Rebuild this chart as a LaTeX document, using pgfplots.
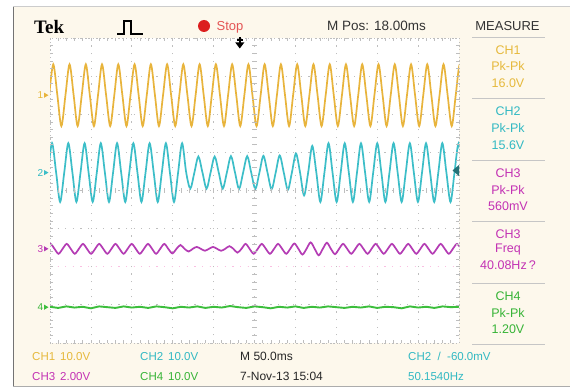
\documentclass[border=0pt]{standalone}
\usepackage{fontspec}
\setmainfont{Liberation Sans}
\newfontfamily\tekfont{Liberation Serif}
\usepackage{pgfplots}
\pgfplotsset{compat=1.18}
\definecolor{cream}{RGB}{253,248,236}
\definecolor{ch1}{RGB}{232,180,60}
\definecolor{ch2}{RGB}{60,190,200}
\definecolor{ch3}{RGB}{180,60,180}
\definecolor{ch4}{RGB}{60,190,60}
\definecolor{ch1t}{RGB}{230,185,60}
\definecolor{ch2t}{RGB}{50,185,195}
\definecolor{ch3t}{RGB}{195,50,180}
\definecolor{ch4t}{RGB}{55,180,55}
\definecolor{gridc}{RGB}{190,190,190}
\definecolor{framec}{RGB}{115,115,115}
\definecolor{stopdot}{RGB}{220,30,30}
\definecolor{stoptxt}{RGB}{228,85,85}
\newcommand\fm{\fontsize{12.5}{14}\selectfont}
\newcommand\fh{\fontsize{13}{15}\selectfont}
\newcommand\fb{\fontsize{11.5}{13}\selectfont}
\begin{document}
\begin{tikzpicture}[x=1pt,y=1pt]
\useasboundingbox (0,0) rectangle (570,389);
\fill[white] (0,0) rectangle (570,389);
\fill[cream] (13,3) rectangle (570,382);
\fill[white] (50,46) rectangle (459,351);
\draw[line width=1.8pt, framec] (13.5,2.5) -- (13.5,382.5);
\draw[line width=1.5pt, gray!40] (13,382.5) -- (570,382.5);
\draw[line width=1.5pt, gray!65] (13,2.5) -- (570,2.5);

\begin{axis}[at={(50pt,46pt)}, anchor=south west, scale only axis,
  width=409pt, height=305pt,
  xmin=0, xmax=500, ymin=-4, ymax=4,
  xtick={0,50,...,500}, ytick={-4,-3,...,4},
  xticklabels={}, yticklabels={}, major tick length=0pt,
  grid=major,
  major grid style={draw=gridc, line width=0.8pt, dash pattern=on 1.2pt off 6.4pt},
  axis line style={draw=gridc, line width=0.8pt, dash pattern=on 1.2pt off 2.5pt},
  clip mode=individual]
\addplot[draw=magenta!25, line width=0.8pt, dash pattern=on 1.2pt off 6.4pt] coordinates {(0,-2) (500,-2)};
% CH1
\addplot[ch1, line width=1.7pt, smooth] coordinates {
(-1.0,2.50)(4.0,3.31)(9.0,2.50)(13.9,1.69)
(18.9,2.50)(23.9,3.31)(28.9,2.50)(33.8,1.69)
(38.8,2.50)(43.8,3.31)(48.7,2.50)(53.7,1.69)
(58.7,2.50)(63.6,3.31)(68.6,2.50)(73.6,1.69)
(78.6,2.50)(83.5,3.31)(88.5,2.50)(93.5,1.69)
(98.4,2.50)(103.4,3.31)(108.4,2.50)(113.3,1.69)
(118.3,2.50)(123.3,3.31)(128.3,2.50)(133.2,1.69)
(138.2,2.50)(143.2,3.31)(148.1,2.50)(153.1,1.69)
(158.1,2.50)(163.0,3.31)(168.0,2.50)(173.0,1.69)
(178.0,2.50)(182.9,3.31)(187.9,2.50)(192.9,1.69)
(197.8,2.50)(202.8,3.31)(207.8,2.50)(212.7,1.69)
(217.7,2.50)(222.7,3.31)(227.7,2.50)(232.6,1.69)
(237.6,2.50)(242.6,3.31)(247.5,2.50)(252.5,1.69)
(257.5,2.50)(262.4,3.31)(267.4,2.50)(272.4,1.69)
(277.4,2.50)(282.3,3.31)(287.3,2.50)(292.3,1.69)
(297.2,2.50)(302.2,3.31)(307.2,2.50)(312.1,1.69)
(317.1,2.50)(322.1,3.31)(327.1,2.50)(332.0,1.69)
(337.0,2.50)(342.0,3.31)(346.9,2.50)(351.9,1.69)
(356.9,2.50)(361.8,3.31)(366.8,2.50)(371.8,1.69)
(376.8,2.50)(381.7,3.31)(386.7,2.50)(391.7,1.69)
(396.6,2.50)(401.6,3.31)(406.6,2.50)(411.5,1.69)
(416.5,2.50)(421.5,3.31)(426.5,2.50)(431.4,1.69)
(436.4,2.50)(441.4,3.31)(446.3,2.50)(451.3,1.69)
(456.3,2.50)(461.2,3.31)(466.2,2.50)(471.2,1.69)
(476.2,2.50)(481.1,3.31)(486.1,2.50)(491.1,1.69)
(496.0,2.50)(501.0,3.31)(506.0,2.50)};
% CH2
\addplot[ch2, line width=1.7pt, smooth] coordinates {
(-2.5,0.47)(2.5,1.24)(7.5,0.47)(12.4,-0.30)
(17.4,0.47)(22.4,1.24)(27.4,0.47)(32.3,-0.30)
(37.3,0.47)(42.3,1.24)(47.2,0.47)(52.2,-0.30)
(57.2,0.47)(62.1,1.24)(67.1,0.47)(72.1,-0.30)
(77.1,0.47)(82.0,1.24)(87.0,0.47)(92.0,-0.30)
(96.9,0.47)(101.9,1.24)(106.9,0.47)(111.8,-0.30)
(116.8,0.47)(121.8,1.24)(126.8,0.47)(131.7,-0.30)
(136.7,0.47)(141.7,1.24)(146.6,0.47)(151.6,-0.30)
(156.6,0.47)(161.5,1.24)(166.5,0.47)(171.5,0.05)
(176.5,0.47)(181.4,0.89)(186.4,0.47)(191.4,0.05)
(196.3,0.47)(201.3,0.89)(206.3,0.47)(211.2,0.05)
(216.2,0.47)(221.2,0.90)(226.2,0.47)(231.1,0.04)
(236.1,0.47)(241.1,0.90)(246.0,0.47)(251.0,0.04)
(256.0,0.47)(260.9,0.91)(265.9,0.47)(270.9,0.03)
(275.9,0.47)(280.8,0.92)(285.8,0.47)(290.8,0.02)
(295.7,0.47)(300.7,0.97)(305.7,0.47)(310.6,-0.13)
(315.6,0.47)(320.6,1.17)(325.6,0.47)(330.5,-0.30)
(335.5,0.47)(340.5,1.24)(345.4,0.47)(350.4,-0.30)
(355.4,0.47)(360.3,1.24)(365.3,0.47)(370.3,-0.30)
(375.3,0.47)(380.2,1.24)(385.2,0.47)(390.2,-0.30)
(395.1,0.47)(400.1,1.24)(405.1,0.47)(410.0,-0.30)
(415.0,0.47)(420.0,1.24)(425.0,0.47)(429.9,-0.30)
(434.9,0.47)(439.9,1.24)(444.8,0.47)(449.8,-0.30)
(454.8,0.47)(459.7,1.24)(464.7,0.47)(469.7,-0.30)
(474.7,0.47)(479.6,1.24)(484.6,0.47)(489.6,-0.30)
(494.5,0.47)(499.5,1.24)(504.5,0.47)};
% CH3
\addplot[ch3, line width=1.7pt, smooth] coordinates {
(-4.5,-1.53)(0.5,-1.40)(5.5,-1.53)(10.4,-1.66)
(15.4,-1.53)(20.4,-1.40)(25.4,-1.53)(30.3,-1.66)
(35.3,-1.53)(40.3,-1.40)(45.2,-1.53)(50.2,-1.66)
(55.2,-1.53)(60.1,-1.40)(65.1,-1.53)(70.1,-1.66)
(75.1,-1.53)(80.0,-1.40)(85.0,-1.53)(90.0,-1.66)
(94.9,-1.53)(99.9,-1.40)(104.9,-1.53)(109.8,-1.66)
(114.8,-1.53)(119.8,-1.40)(124.8,-1.53)(129.7,-1.66)
(134.7,-1.53)(139.7,-1.40)(144.6,-1.53)(149.6,-1.65)
(154.6,-1.53)(159.5,-1.43)(164.5,-1.53)(169.5,-1.60)
(174.5,-1.53)(179.4,-1.48)(184.4,-1.53)(189.4,-1.58)
(194.3,-1.53)(199.3,-1.48)(204.3,-1.53)(209.2,-1.58)
(214.2,-1.53)(219.2,-1.46)(224.2,-1.53)(229.1,-1.63)
(234.1,-1.53)(239.1,-1.40)(244.0,-1.53)(249.0,-1.66)
(254.0,-1.53)(258.9,-1.40)(263.9,-1.53)(268.9,-1.66)
(273.9,-1.53)(278.8,-1.40)(283.8,-1.53)(288.8,-1.66)
(293.7,-1.53)(298.7,-1.39)(303.7,-1.53)(308.6,-1.68)
(313.6,-1.53)(318.6,-1.36)(323.6,-1.53)(328.5,-1.70)
(333.5,-1.53)(338.5,-1.37)(343.4,-1.53)(348.4,-1.67)
(353.4,-1.53)(358.3,-1.40)(363.3,-1.53)(368.3,-1.66)
(373.3,-1.53)(378.2,-1.40)(383.2,-1.53)(388.2,-1.66)
(393.1,-1.53)(398.1,-1.40)(403.1,-1.53)(408.0,-1.66)
(413.0,-1.53)(418.0,-1.40)(423.0,-1.53)(427.9,-1.66)
(432.9,-1.53)(437.9,-1.40)(442.8,-1.53)(447.8,-1.66)
(452.8,-1.53)(457.7,-1.40)(462.7,-1.53)(467.7,-1.66)
(472.7,-1.53)(477.6,-1.40)(482.6,-1.53)(487.6,-1.66)
(492.5,-1.53)(497.5,-1.40)(502.5,-1.53)};
% CH4
\addplot[ch4, line width=1.9pt] coordinates {
(0,-3.05)(10,-3.08)(20,-3.04)(30,-3.07)(40,-3.05)(50,-3.09)(60,-3.04)(70,-3.06)
(80,-3.08)(90,-3.04)(100,-3.07)(110,-3.05)(120,-3.08)(130,-3.04)(140,-3.06)(150,-3.09)
(160,-3.05)(170,-3.07)(180,-3.04)(190,-3.08)(200,-3.05)(210,-3.07)(220,-3.03)(230,-3.06)
(240,-3.08)(250,-3.04)(260,-3.06)(270,-3.09)(280,-3.05)(290,-3.07)(300,-3.04)(310,-3.08)
(320,-3.05)(330,-3.07)(340,-3.04)(350,-3.06)(360,-3.08)(370,-3.05)(380,-3.07)(390,-3.04)
(400,-3.08)(410,-3.05)(420,-3.06)(430,-3.09)(440,-3.04)(450,-3.07)(460,-3.05)(470,-3.08)
(480,-3.04)(490,-3.06)(500,-3.05)};
\end{axis}

% graticule ticks
\foreach \i in {1,...,49} {
  \draw[gridc, line width=0.7pt] ({50+\i*8.18},{389-190.5-2.2}) -- ({50+\i*8.18},{389-190.5+2.2});
  \draw[gridc, line width=0.7pt] ({50+\i*8.18},{389-38}) -- ({50+\i*8.18},{389-41});
  \draw[gridc, line width=0.7pt] ({50+\i*8.18},{389-343}) -- ({50+\i*8.18},{389-340});
}
\foreach \j in {1,...,39} {
  \draw[gridc, line width=0.7pt] ({254.5-2.2},{389-38-\j*7.625}) -- ({254.5+2.2},{389-38-\j*7.625});
  \draw[gridc, line width=0.7pt] (50,{389-38-\j*7.625}) -- (53,{389-38-\j*7.625});
  \draw[gridc, line width=0.7pt] (459,{389-38-\j*7.625}) -- (456,{389-38-\j*7.625});
}

% channel ground markers
\node[anchor=east, inner sep=0, text=ch1t, font=\fontsize{10}{10}\selectfont] at (43.5,{389-95.2}) {1};
\fill[ch1] (44,{389-95.2+2.6}) -- (44,{389-95.2-2.6}) -- (48.5,{389-95.2}) -- cycle;
\node[anchor=east, inner sep=0, text=ch2t, font=\fontsize{10}{10}\selectfont] at (43.5,{389-172.6}) {2};
\fill[ch2] (44,{389-172.6+2.6}) -- (44,{389-172.6-2.6}) -- (48.5,{389-172.6}) -- cycle;
\node[anchor=east, inner sep=0, text=ch3t, font=\fontsize{10}{10}\selectfont] at (43.5,{389-248.8}) {3};
\fill[ch3] (44,{389-248.8+2.6}) -- (44,{389-248.8-2.6}) -- (48.5,{389-248.8}) -- cycle;
\node[anchor=east, inner sep=0, text=ch4t, font=\fontsize{10}{10}\selectfont] at (43.5,{389-307.2}) {4};
\fill[ch4] (44,{389-307.2+2.6}) -- (44,{389-307.2-2.6}) -- (48.5,{389-307.2}) -- cycle;

% trigger level marker (right)
\fill[ch2!60!black] (459,{389-165}) -- (459,{389-176}) -- (452.5,{389-170.5}) -- cycle;
% trigger position marker (top)
\draw[black, line width=1.6pt] (239.8,{389-37.5}) -- (239.8,{389-43});
\draw[black, line width=1.2pt] (236.5,{389-40}) -- (243.1,{389-40});
\fill[black] (235.3,{389-42.5}) -- (244.3,{389-42.5}) -- (239.8,{389-48.5}) -- cycle;

% header
\node[anchor=base west, inner sep=0, font=\tekfont\bfseries\fontsize{19}{20}\selectfont, text=black] at (34,355) {Tek};
\draw[black, line width=1.1pt] (117,355) -- (124,355) -- (124,368) -- (131,368) -- (131,355) -- (143,355);
\fill[stopdot] (204,363) circle (6);
\node[anchor=base west, inner sep=0, font=\fh, text=stoptxt] at (216.5,358.5) {Stop};
\node[anchor=base west, inner sep=0, font=\fontsize{13.5}{15}\selectfont, text=black!80] at (327,358.5) {M Pos: 18.00ms};
\node[anchor=base, inner sep=0, font=\fh, text=black!80] at (507.5,358.5) {MEASURE};

% measure panel
\foreach \y in {37,98.5,160,221.5,283,344.5} {
  \draw[gray!45, line width=0.9pt] (472,{389-\y}) -- (545,{389-\y});
}
\node[anchor=base, inner sep=0, font=\fm, text=ch1t] at (508,{389-54.5}) {CH1};
\node[anchor=base, inner sep=0, font=\fm, text=ch1t] at (508,{389-71}) {Pk-Pk};
\node[anchor=base, inner sep=0, font=\fm, text=ch1t] at (508,{389-87.5}) {16.0V};
\node[anchor=base, inner sep=0, font=\fm, text=ch2t] at (508,{389-116}) {CH2};
\node[anchor=base, inner sep=0, font=\fm, text=ch2t] at (508,{389-132.5}) {Pk-Pk};
\node[anchor=base, inner sep=0, font=\fm, text=ch2t] at (508,{389-149}) {15.6V};
\node[anchor=base, inner sep=0, font=\fm, text=ch3t] at (508,{389-177.5}) {CH3};
\node[anchor=base, inner sep=0, font=\fm, text=ch3t] at (508,{389-194}) {Pk-Pk};
\node[anchor=base, inner sep=0, font=\fm, text=ch3t] at (508,{389-210.5}) {560mV};
\node[anchor=base, inner sep=0, font=\fm, text=ch3t] at (508,{389-238}) {CH3};
\node[anchor=base, inner sep=0, font=\fm, text=ch3t] at (508,{389-252.5}) {Freq};
\node[anchor=base, inner sep=0, font=\fm, text=ch3t] at (508,{389-269}) {40.08Hz\,?};
\node[anchor=base, inner sep=0, font=\fm, text=ch4t] at (508,{389-300.5}) {CH4};
\node[anchor=base, inner sep=0, font=\fm, text=ch4t] at (508,{389-317}) {Pk-Pk};
\node[anchor=base, inner sep=0, font=\fm, text=ch4t] at (508,{389-333.5}) {1.20V};

% bottom readouts
\node[anchor=base west, inner sep=0, font=\fb, text=ch1t] at (32,28.5) {CH1};
\node[anchor=base west, inner sep=0, font=\fb, text=ch1t] at (60,28.5) {10.0V};
\node[anchor=base west, inner sep=0, font=\fb, text=ch2t] at (140,28.5) {CH2};
\node[anchor=base west, inner sep=0, font=\fb, text=ch2t] at (168,28.5) {10.0V};
\node[anchor=base west, inner sep=0, font=\fontsize{12}{14}\selectfont, text=black!85] at (240,28.5) {M 50.0ms};
\node[anchor=base west, inner sep=0, font=\fb, text=ch2t] at (408,28.5) {CH2\ \ /\ \ -60.0mV};
\node[anchor=base west, inner sep=0, font=\fb, text=ch3t] at (32,9) {CH3};
\node[anchor=base west, inner sep=0, font=\fb, text=ch3t] at (60,9) {2.00V};
\node[anchor=base west, inner sep=0, font=\fb, text=ch4t] at (140,9) {CH4};
\node[anchor=base west, inner sep=0, font=\fb, text=ch4t] at (168,9) {10.0V};
\node[anchor=base west, inner sep=0, font=\fontsize{12}{14}\selectfont, text=black!85] at (240,9) {7-Nov-13 15:04};
\node[anchor=base west, inner sep=0, font=\fb, text=ch2t] at (408,9) {50.1540Hz};
\end{tikzpicture}
\end{document}
